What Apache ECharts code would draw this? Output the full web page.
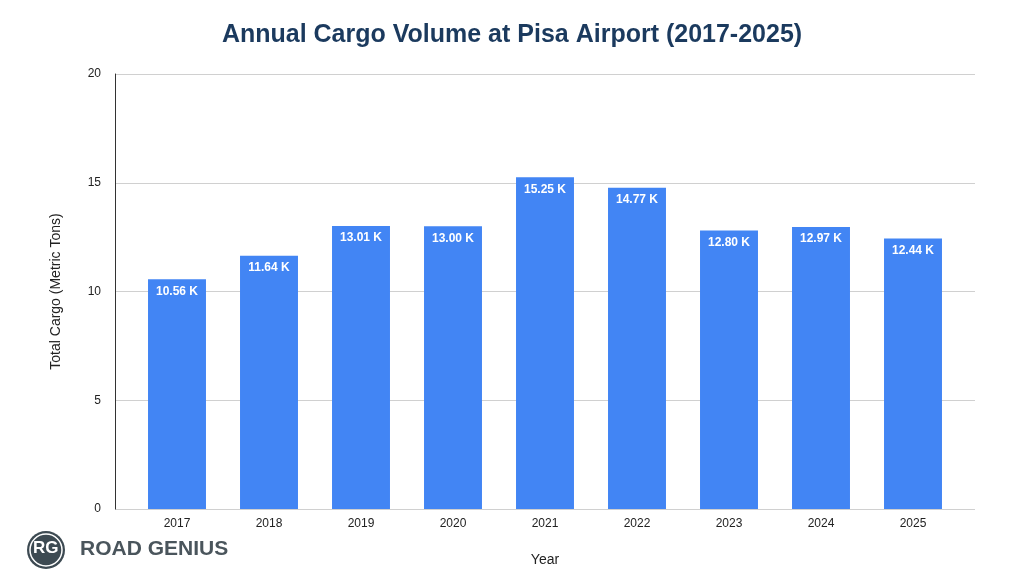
<!DOCTYPE html>
<html>
<head>
<meta charset="utf-8">
<script src="https://cdn.jsdelivr.net/npm/echarts@6/dist/echarts.min.js"></script>
<style>html,body{margin:0;padding:0;background:#fff}#main{width:1024px;height:582px}</style>
</head>
<body>
<div id="main"></div>
<script>
const years = ['2017', '2018', '2019', '2020', '2021', '2022', '2023', '2024', '2025'];
const cargo = [10.56, 11.64, 13.01, 13.00, 15.25, 14.77, 12.80, 12.97, 12.44];
const yTicks = [0, 5, 10, 15, 20];

const chart = echarts.init(document.getElementById('main'));
const font = '"Liberation Sans", Arial, sans-serif';

chart.setOption({
    textStyle: { fontFamily: font },
    title: {
        text: 'Annual Cargo Volume at Pisa Airport (2017-2025)',
        left: 'center',
        top: 18,
        textStyle: { color: '#1b3a5e', fontSize: 25, fontWeight: 'bold', fontFamily: font }
    },
    grid: [
        { left: 115, right: 49, top: 74, bottom: 73 },
        { left: 131, right: 65, top: 74, bottom: 73 }
    ],
    xAxis: [
        { gridIndex: 0, type: 'category', data: years, show: false },
        {
            gridIndex: 1, type: 'category', data: years,
            axisLine: { show: false }, axisTick: { show: false },
            axisLabel: { color: '#222', fontSize: 12, margin: 9 },
            name: 'Year', nameLocation: 'middle', nameGap: 44,
            nameTextStyle: { color: '#222', fontSize: 14 }
        }
    ],
    yAxis: [
        {
            gridIndex: 0, type: 'value', min: 0, max: 20, interval: 5,
            axisLine: { show: true, lineStyle: { color: '#333' } },
            axisTick: { show: false },
            axisLabel: { color: '#222', fontSize: 12, margin: 14,
                formatter: v => yTicks.includes(v) ? String(v) : '' },
            splitLine: { lineStyle: { color: '#d0d0d0' } },
            name: 'Total Cargo (Metric Tons)', nameLocation: 'middle', nameGap: 52,
            nameTextStyle: { color: '#222', fontSize: 14 }
        },
        { gridIndex: 1, type: 'value', min: 0, max: 20, show: false }
    ],
    series: [{
        type: 'bar',
        xAxisIndex: 1, yAxisIndex: 1,
        data: cargo,
        barWidth: '63%',
        itemStyle: { color: '#4285f4' },
        label: {
            show: true, position: 'insideTop', distance: 6,
            color: '#fff', fontWeight: 'bold', fontSize: 12,
            formatter: p => p.value.toFixed(2) + ' K'
        }
    }],
    graphic: [
        { type: 'circle', shape: { cx: 46, cy: 550, r: 19 }, style: { fill: '#3d4a52' } },
        { type: 'circle', shape: { cx: 46, cy: 550, r: 16 }, style: { fill: 'none', stroke: '#fff', lineWidth: 1.5 } },
        { type: 'text', left: 33, top: 540, style: { text: 'RG', fill: '#fff', font: 'bold 17px ' + font } },
        { type: 'text', left: 80, top: 539, style: { text: 'ROAD GENIUS', fill: '#4a555c', font: 'bold 21px ' + font } }
    ]
});
</script>
</body>
</html>
